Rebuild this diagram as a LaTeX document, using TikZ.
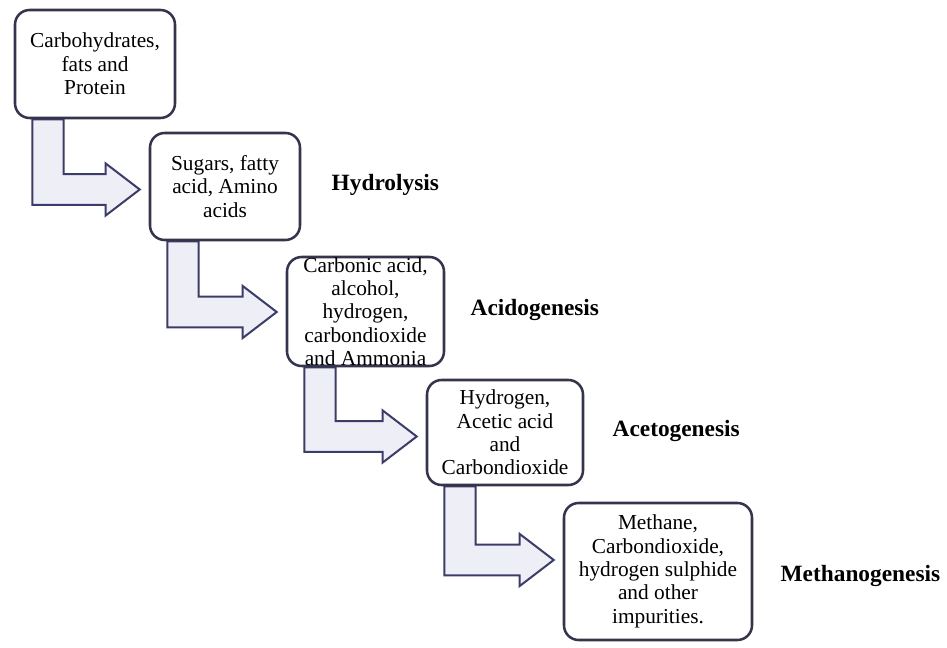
\documentclass[tikz,border=0pt]{standalone}
\usepackage{fontspec}
\setmainfont{Liberation Serif}
\usetikzlibrary{calc,backgrounds}

\definecolor{boxline}{HTML}{34344C}
\definecolor{arrline}{HTML}{3C3C68}
\definecolor{arrfill}{HTML}{EEEEF7}

\tikzset{
  stage/.style={draw=boxline, line width=1.9pt, rounded corners=11pt, fill=white,
    align=center, inner sep=0pt, font=\fontsize{16}{17.5}\selectfont},
  phase/.style={anchor=west, font=\fontsize{17.5}{20}\selectfont\bfseries},
  flowarrow/.style={draw=arrline, fill=arrfill, line width=1.5pt, line join=miter}
}

% bent block arrow from the foot of #1 into the left side of #2, tip shifted by #3
\newcommand{\bentarrow}[3]{%
  \draw[flowarrow] let \p1=(#1.south west), \p2=($(#2.west)+(-9,#3)$) in
    (\x1+14pt,\y1) -- (\x1+37.5pt,\y1) -- (\x1+37.5pt,\y2+11.5pt)
    -- (\x2-25.5pt,\y2+11.5pt) -- (\x2-25.5pt,\y2+19.5pt) -- (\x2,\y2)
    -- (\x2-25.5pt,\y2-19.5pt) -- (\x2-25.5pt,\y2-11.5pt)
    -- (\x1+14pt,\y2-11.5pt) -- cycle;}

\begin{document}
\begin{tikzpicture}[x=0.75pt, y=-0.75pt]
    \useasboundingbox (0,0) rectangle (947,648);
    % Stages of digestion:
    \node[stage, minimum width=120pt, minimum height=81pt] (carbs) at (95,64)
        {Carbohydrates,\\ fats and\\ Protein};
    \node[stage, minimum width=112.5pt, minimum height=80.25pt] (sugars) at (225,186.5)
        {Sugars, fatty\\ acid, Amino\\ acids};
    \node[stage, minimum width=117.75pt, minimum height=81.75pt] (acids) at (365.5,311.5)
        {Carbonic acid,\\ alcohol,\\ hydrogen,\\ carbondioxide\\ and Ammonia};
    \node[stage, minimum width=117pt, minimum height=78.75pt] (gases) at (505,432.5)
        {Hydrogen,\\ Acetic acid\\ and\\ Carbondioxide};
    \node[stage, minimum width=141pt, minimum height=102.75pt] (biogas) at (658,571.5)
        {Methane,\\ Carbondioxide,\\ hydrogen sulphide\\ and other\\ impurities.};

    % Process names:
    \node[phase] (hydrolysis) at (327,185) {Hydrolysis};
    \node[phase] (acidogenesis) at (466,310) {Acidogenesis};
    \node[phase] (acetogenesis) at (608,431) {Acetogenesis};
    \node[phase] (methanogenesis) at (776,576) {Methanogenesis};

    % Arrows:
    \begin{scope}[on background layer]
        \bentarrow{carbs}{sugars}{3}
        \bentarrow{sugars}{acids}{0.5}
        \bentarrow{acids}{gases}{4}
        \bentarrow{gases}{biogas}{-11.5}
    \end{scope}
\end{tikzpicture}
\end{document}
